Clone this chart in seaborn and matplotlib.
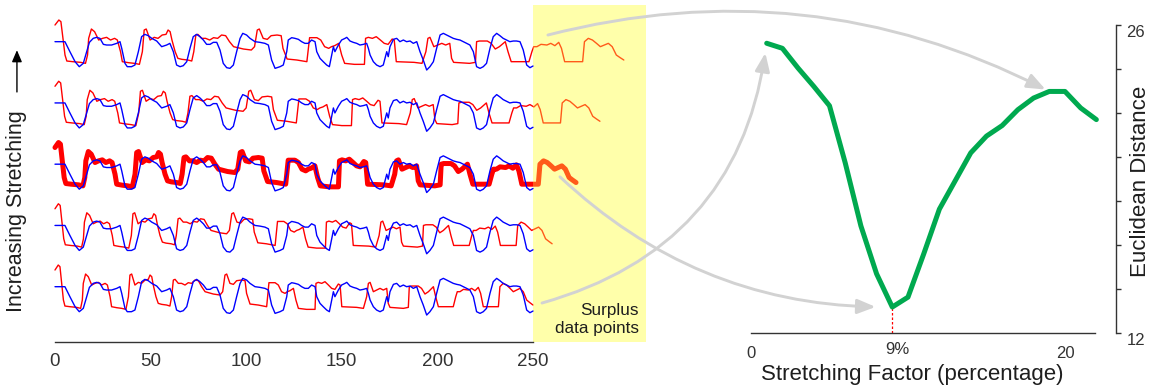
import numpy as np
import matplotlib
matplotlib.use('Agg')
import matplotlib.pyplot as plt
from matplotlib.patches import Rectangle, ConnectionPatch
import matplotlib.transforms as mtransforms
import seaborn as sns

# ---------------- data ----------------
# reference series (blue), time index and value
blue_t = [0, 5.2, 7.8, 10.5, 12.7, 14.8, 16.6, 18, 20, 21.8,
          23.5, 25.3, 27, 29.6, 32.3, 34, 34.9, 36.6, 37.8, 40,
          41.8, 43.6, 45.3, 47, 48.8, 50.6, 53.2, 55.8, 58.4, 60.1,
          61.9, 63.6, 65.4, 67.1, 68.9, 70.6, 72.3, 74.1, 75.8, 77.6,
          79.3, 81.1, 82.8, 84.6, 86.3, 88, 89.8, 91.5, 93.3, 95,
          96.8, 98.2, 100.2, 102, 104.6, 107.2, 109.8, 111.6, 113.3, 115.1,
          117.7, 119.4, 121.2, 122, 123.8, 125.5, 127.3, 129, 130.7, 132.5,
          134.2, 136, 136.9, 138.6, 140.3, 142.1, 143.5, 144.7, 145.6, 146.4,
          148.2, 149.9, 151.7, 152.6, 154.3, 156, 157.8, 159.5, 161.3, 163,
          163.9, 164.8, 166.5, 168.2, 170, 171.7, 173.5, 174.3, 175.2, 177,
          178.7, 180.4, 182.2, 183.9, 185.7, 187.4, 189.2, 190.9, 192.6, 194.4,
          196.1, 197.9, 199.6, 201.4, 203.1, 204.8, 206.6, 208.3, 210.1, 211.8,
          213.6, 215.3, 217, 218.8, 220.5, 222.3, 224, 225.7, 227.5, 229.2,
          231, 232.7, 234.4, 236.2, 237.9, 239.7, 241.4, 243.2, 244.9, 246.7,
          248.4, 250]
blue_v = [0, 0, -3, -6, -7.5, -6.5, -3, -0.2, 1, 1.3,
          1, -0.8, -1, -1, -0.5, 0, -2, -6.5, -7.5, -7.5,
          -7, -3, 1.5, 2.2, 1.8, 1, 0.2, -1.5, -1, -0.5,
          -3, -7, -7.5, -7.2, -6, -2, 1.5, 2.2, 1.5, 0.5,
          -0.8, -0.8, -0.2, -0.2, -2.5, -6.5, -7.8, -8, -7, -3,
          1, 2.5, 2, 1, 0, -0.2, -0.5, -1, -5.5, -8,
          -7.5, -7, -3, 0.5, 1.2, 1, 0.7, 0, -0.5, -0.5,
          0.5, 0, -3, -5, -6, -7, -7.5, -4, -1.5, -3,
          -1, 0.5, 1, 1.3, 0.2, -0.2, -0.5, -1, -0.8, -0.5,
          -2, -4, -6, -7, -7.5, -7, -3, -4.5, -1.5, 0.7,
          1, 0, 0.5, 0, 0.2, -0.5, 0, -3, -5.5, -8.5,
          -7.5, -6, -2, 2, 2.5, 2, 1.5, 1, 0.7, 0.5,
          0, -0.5, -1, -3, -7.5, -8, -7.5, -6.5, -2, 1.5,
          2.5, 1.8, 1, 0.5, 0, 0.2, 0.2, 0, -2.5, -7,
          -7.8, -7.3]

# query series (red), unstretched
red_t = [0, 1.7, 2.6, 3.5, 4.4, 5.2, 7.8, 11.3, 13.4, 14.3,
         14.8, 16, 17.4, 19.2, 20.9, 22.7, 24.4, 26.2, 27.4, 28.8,
         29.6, 32.3, 34.9, 37.1, 38.4, 39.2, 40.1, 41.8, 43.6, 45.3,
         47.1, 48.8, 49.7, 50.6, 51.4, 52.8, 54, 55.8, 58.4, 60.1,
         61, 61.9, 62.8, 64.5, 66.2, 68, 69.7, 71.5, 73.2, 75,
         76.7, 78.5, 82.8, 86.3, 87.7, 88.9, 89.8, 91.5, 93.3, 95,
         97.6, 99.4, 100.2, 102, 106.3, 110.7, 111.2, 111.9, 113.3, 115.1,
         116.8, 118.5, 120.3, 121.5, 122.9, 124.7, 126, 127.3, 131.6, 136,
         136.5, 137.7, 139.5, 141.2, 143, 144.7, 146.4, 148.2, 149.1, 150,
         157.8, 161.3, 163, 163.9, 164.8, 166.5, 168.2, 170, 171.7, 173.5,
         174.3, 175.2, 182.2, 184.8, 185.3, 186.5, 190, 191.7, 193.5, 195.3,
         197.9, 199.1, 200.5, 208.3, 209.6, 210.4, 211.8, 213.6, 216.2, 217.9,
         219.7, 221.4, 222.6, 224, 231.9, 232.7, 234.4, 236.2, 238, 239.7,
         243.2, 244.9, 246.7, 248.4, 250]
red_v = [5, 6.5, 6, 1, -4, -5.8, -6, -6.2, -6.5, -4,
         1, 3.8, 3, 0.5, 1, 1.3, 0.5, 1, 0.5, -3,
         -6, -6.3, -6.5, -6.8, -3, 3.5, 3.8, 0.5, 1.3, 1,
         2, 2.2, 3.5, 3, 0.5, -3, -5, -5.3, -5.5, -5.8,
         -3, 2, 2.2, 1, 1, 0.5, 1.2, 1, 2, 1.8,
         0, -1.5, -2.2, -2.5, -1.5, 3.5, 3.8, 1, 0.7, 1.8,
         2, 1.8, -2, -5.2, -5.5, -6, -3, 1.2, 1.2, 1.2,
         0.5, -1.5, -2, -1.5, -1.2, -0.5, -4, -6.5, -6.8, -6.8,
         1, 1.3, 1, 1.5, 0.5, -0.5, -0.8, 0.8, 0.5, -6,
         -6.2, -6.5, -3, 1, 1.3, -1.5, -1, -0.5, -1, -0.5,
         -5, -6.2, -6.5, -6.2, 0, 0.2, 0.2, -0.5, -2.2, -1.5,
         0, -3, -6, -6, -3, -1.5, -1.5, -0.8, -1, -0.5,
         -1.2, -0.2, -2, -6, -6, 0, 1, 0.5, -0.5, -1.5,
         -0.5, -1.5, -4, -4.8, -5.5]

stretch_pct = [19, 14, 9, 4, 0]      # rows, top to bottom
best_pct = 9
ref_length = 250

factor_x = list(range(1, 23))
distance = [25.17, 24.94, 24.04, 23.21, 22.33, 19.74, 16.87, 14.69, 13.18, 13.63,
            15.59, 17.63, 18.91, 20.19, 20.95, 21.43, 22.15, 22.68, 22.98, 22.98,
            22.23, 21.70]

left_ticks = [0, 50, 100, 150, 200, 250]
right_xticks = [0, 5, 10, 15, 20]
right_xticklabels = ['0', '', '', '', '20']
right_yticks = [12, 14, 16, 18, 20, 22, 24, 26]
right_yticklabels = ['12', '', '', '', '', '', '', '26']

# ---------------- style ----------------
sns.set_style('white')
plt.rcParams['font.family'] = ['Liberation Sans', 'DejaVu Sans']

RED = '#FF0000'
SURPLUS = '#FF5A1A'
BLUE = '#0000FF'
GREEN = '#00A94F'
GREY = '#D2D2D2'
TXT = '#1e1e1e'
TICK = '#333333'
ROW_GAP = 18.375

fig = plt.figure(figsize=(11.56, 3.89), dpi=100)
ax1 = fig.add_axes([0.04261, 0.12082, 0.5177, 0.8663])
ax2 = fig.add_axes([0.64965, 0.14396, 0.31574, 0.79177])

# ---------------- left panel ----------------
ax1.axvspan(ref_length, 308.9, color='#FFFFAA', lw=0, zorder=0)

n = len(stretch_pct)
row_offsets = []
for i, s in enumerate(stretch_pct):
    off = (n - 1 - i) * ROW_GAP
    row_offsets.append(off)
    rx = np.array(red_t) * (1 + s / 100.0)
    ry = np.array(red_v) + off
    by = np.array(blue_v) + off
    bold = (s == best_pct)
    lw = 3.6 if bold else 1.0
    sns.lineplot(x=rx, y=ry, ax=ax1, color=RED, lw=lw, sort=False,
                 estimator=None, zorder=3)
    ax1.lines[-1].set_clip_path(Rectangle((-50, -200), ref_length + 50, 500,
                                          transform=ax1.transData))
    sns.lineplot(x=rx, y=ry, ax=ax1, color=SURPLUS, lw=lw, sort=False,
                 estimator=None, zorder=3)
    ax1.lines[-1].set_clip_path(Rectangle((ref_length, -200), 200, 500,
                                          transform=ax1.transData))
    sns.lineplot(x=blue_t, y=by, ax=ax1, color=BLUE, lw=1.0, sort=False,
                 estimator=None, zorder=4)

ax1.set_xlim(-3, 310)
ax1.set_ylim(-16.59, 84.5)
for sp in ['left', 'right', 'top']:
    ax1.spines[sp].set_visible(False)
ax1.spines['bottom'].set_bounds(0, ref_length)
ax1.spines['bottom'].set_color(TICK)
ax1.spines['bottom'].set_linewidth(1.0)
ax1.set_xticks(left_ticks)
ax1.set_yticks([])
ax1.tick_params(axis='x', direction='out', length=4, width=1, colors=TICK,
                labelsize=13.5, pad=4)
ax1.set_xlabel('')
ax1.set_ylabel('')

ax1.text(305.4, -9.7, 'Surplus\ndata points', ha='right', va='center',
         fontsize=12.3, color=TXT, linespacing=1.25)
ax1.text(-0.0555, 0.389, 'Increasing Stretching', transform=ax1.transAxes,
         rotation=90, ha='center', va='center', fontsize=15.5, color=TXT)
ax1.annotate('', xy=(-0.054, 0.866), xytext=(-0.054, 0.742),
             xycoords='axes fraction', textcoords='axes fraction',
             arrowprops=dict(arrowstyle='-|>,head_length=0.7,head_width=0.3',
                             color='black', lw=1.0, mutation_scale=10,
                             shrinkA=0, shrinkB=0))

# ---------------- right panel ----------------
sns.lineplot(x=factor_x, y=distance, ax=ax2, color=GREEN, lw=3.6, zorder=3)
imin = int(np.argmin(distance))
xmin, ymin = factor_x[imin], distance[imin]
ax2.vlines(xmin, 12, ymin, colors='red', linestyles=(0, (2, 1.6)), lw=0.9, zorder=2)

ax2.set_xlim(0, 23.25)
ax2.set_ylim(12, 26)
for sp in ['left', 'top']:
    ax2.spines[sp].set_visible(False)
ax2.spines['bottom'].set_bounds(0, 21.9)
ax2.spines['right'].set_bounds(12, 26)
for sp in ['bottom', 'right']:
    ax2.spines[sp].set_color(TICK)
    ax2.spines[sp].set_linewidth(1.0)
ax2.yaxis.tick_right()
ax2.set_xticks(right_xticks, right_xticklabels)
ax2.set_yticks(right_yticks, right_yticklabels)
ax2.tick_params(axis='x', direction='out', length=3.5, width=1, colors=TICK,
                labelsize=12, pad=6)
ax2.tick_params(axis='y', direction='out', length=3.5, width=1, colors=TICK,
                labelsize=12, pad=4, right=True, left=False)
for tl in ax2.get_yticklabels():
    tl.set_va('top')
ax2.set_xlabel('')
ax2.set_ylabel('')

blend = mtransforms.blended_transform_factory(ax2.transData, ax2.transAxes)
ax2.text(xmin + 0.3, -0.028, f'{xmin}%', transform=blend, ha='center', va='top',
         fontsize=12, color=TICK)
ax2.text(0.441, -0.102, 'Stretching Factor (percentage)', transform=ax2.transAxes,
         ha='center', va='top', fontsize=16, color=TXT)
ax2.text(1.0658, 0.4935, 'Euclidean Distance', transform=ax2.transAxes,
         rotation=90, ha='center', va='center', fontsize=16, color=TXT)

# ---------------- connecting arrows ----------------
style = '-|>,head_length=0.55,head_width=0.22'
links = [
    ((257.8, row_offsets[0] + 2.0), (factor_x[18], distance[18]), -0.19, 3),
    ((254.7, row_offsets[4] - 4.9), (factor_x[0], distance[0]), 0.33, 7),
    ((264.1, row_offsets[2] - 3.8), (xmin, ymin), 0.2, 12),
]
for a, b, rad, shr in links:
    con = ConnectionPatch(xyA=a, coordsA=ax1.transData, xyB=b, coordsB=ax2.transData,
                          arrowstyle=style, connectionstyle=f'arc3,rad={rad}',
                          color=GREY, lw=2.1, mutation_scale=20,
                          shrinkA=0, shrinkB=shr, zorder=5)
    fig.add_artist(con)

fig.savefig('out.png', dpi=100)
